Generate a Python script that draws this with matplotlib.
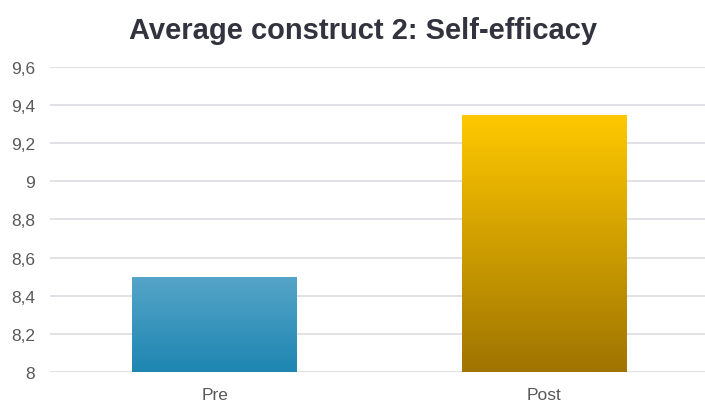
import matplotlib.pyplot as plt
import numpy as np
from matplotlib.colors import LinearSegmentedColormap

plt.rcParams['font.family'] = ['Liberation Sans', 'DejaVu Sans']

categories = ["Pre", "Post"]
values = [8.5, 9.35]
ticks = [8.0, 8.2, 8.4, 8.6, 8.8, 9.0, 9.2, 9.4, 9.6]
tick_labels = ["8", "8,2", "8,4", "8,6", "8,8", "9", "9,2", "9,4", "9,6"]

# top colour, bottom colour for each bar
gradients = [("#55a5c8", "#1e86b2"), ("#ffc900", "#9f7400")]

fig = plt.figure(figsize=(7.05, 4.02), dpi=100)
ax = fig.add_axes([0.071, 0.072, 0.935, 0.759])

x = np.arange(len(categories))
bars = ax.bar(x, values, width=0.5, bottom=0, color="none", zorder=3)

for bar, (top, bot) in zip(bars, gradients):
    cmap = LinearSegmentedColormap.from_list("g", [bot, top])
    bx, by = bar.get_x(), 8.0
    bw, bh = bar.get_width(), bar.get_height() - 8.0
    grad = np.linspace(0, 1, 256).reshape(-1, 1)
    im = ax.imshow(grad, cmap=cmap, aspect="auto", origin="lower",
                   extent=[bx, bx + bw, by, by + bh], zorder=3)
    im.set_clip_path(bar)

ax.set_xlim(-0.5, 1.5)
ax.set_ylim(8.0, 9.6)
ax.set_yticks(ticks)
ax.set_yticklabels(tick_labels)
ax.set_xticks(x)
ax.set_xticklabels(categories)

ax.grid(axis="y", color="#dcdce3", linewidth=1.2, zorder=0)
ax.set_axisbelow(True)
for s in ax.spines.values():
    s.set_visible(False)
ax.tick_params(axis="both", length=0, labelsize=12.5, colors="#595959")
ax.tick_params(axis="y", pad=11)
ax.tick_params(axis="x", pad=11)

fig.text(0.515, 0.922, "Average construct 2: Self-efficacy", ha="center",
         va="center", fontsize=21, fontweight="bold", color="#33333f")

fig.savefig("out.png", dpi=100)
